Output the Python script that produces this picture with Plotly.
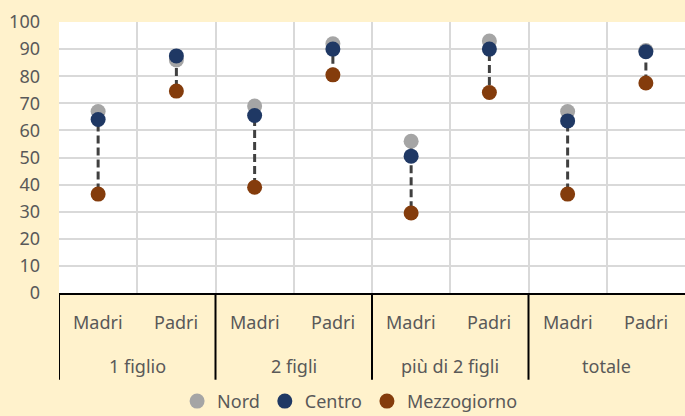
import plotly.graph_objects as go

gruppi = ['1 figlio', '2 figli', 'più di 2 figli', 'totale']
genitori = ['Madri', 'Padri']

nord = [67, 86, 69, 92, 56, 93, 67, 89.5]
centro = [64, 87.5, 65.5, 90, 50.5, 90, 63.5, 89]
mezzogiorno = [36.5, 74.5, 39, 80.5, 29.5, 74, 36.5, 77.5]

FONT = 'Noto Sans'
GRAY_TXT = '#595959'

n_sub = len(genitori)
xs = list(range(len(gruppi) * n_sub))

fig = go.Figure()

# ── linee tratteggiate max-min ────────────────────
for x, a, b, c in zip(xs, nord, centro, mezzogiorno):
    fig.add_trace(go.Scatter(
        x=[x, x], y=[max(a, b, c), min(a, b, c)],
        mode='lines', line=dict(color='#404040', width=3, dash='8px,4px'),
        showlegend=False, hoverinfo='skip'
    ))

# ── punti ─────────────────────────────────────────
for name, vals, col in [('Nord', nord, '#A5A5A5'),
                        ('Centro', centro, '#1F3864'),
                        ('Mezzogiorno', mezzogiorno, '#843C0C')]:
    fig.add_trace(go.Scatter(
        x=xs, y=vals, name=name, mode='markers',
        marker=dict(color=col, size=15)
    ))

# ── etichette asse x a due livelli ────────────────
for gi, g in enumerate(gruppi):
    for si, s in enumerate(genitori):
        fig.add_annotation(x=gi * n_sub + si, y=0, xref='x', yref='paper',
                           text=s, showarrow=False, yanchor='middle', yshift=-29,
                           font=dict(size=18, color=GRAY_TXT))
    fig.add_annotation(x=gi * n_sub + (n_sub - 1) / 2, y=0, xref='x', yref='paper',
                       text=g, showarrow=False, yanchor='middle', yshift=-73,
                       font=dict(size=18, color=GRAY_TXT))
    fig.add_shape(type='line', xref='x', yref='paper',
                  x0=gi * n_sub - 0.5, x1=gi * n_sub - 0.5, y0=0, y1=-0.32,
                  line=dict(color='black', width=2), layer='above')

fig.update_layout(
    width=685, height=416,
    margin=dict(l=59, r=0, t=22, b=123, autoexpand=False),
    paper_bgcolor='#FFF2CC', plot_bgcolor='white',
    font=dict(family=FONT, size=18, color=GRAY_TXT),
    legend=dict(orientation='h', x=0.465, xanchor='center', y=-0.40, yanchor='middle',
                font=dict(size=18, color=GRAY_TXT), itemwidth=30,
                bgcolor='rgba(0,0,0,0)'),
)
fig.update_xaxes(
    range=[-0.5, len(xs) - 0.5], tickvals=[x - 0.5 for x in xs] + [len(xs) - 0.5],
    showticklabels=False, showgrid=True, gridcolor='#D9D9D9', gridwidth=2,
    showline=True, linecolor='black', linewidth=2, zeroline=False, ticks='',
    fixedrange=True
)
fig.update_yaxes(
    range=[0, 100], dtick=10, showgrid=True, gridcolor='#D9D9D9', gridwidth=2,
    zeroline=False, tickfont=dict(size=18, color=GRAY_TXT), ticks='',
    ticklabelstandoff=18, automargin=False, fixedrange=True
)

# niente margine del body, così la figura riempie la finestra
fig.write_html('out.html', config={'displayModeBar': False},
               post_script="document.body.style.margin='0';")
